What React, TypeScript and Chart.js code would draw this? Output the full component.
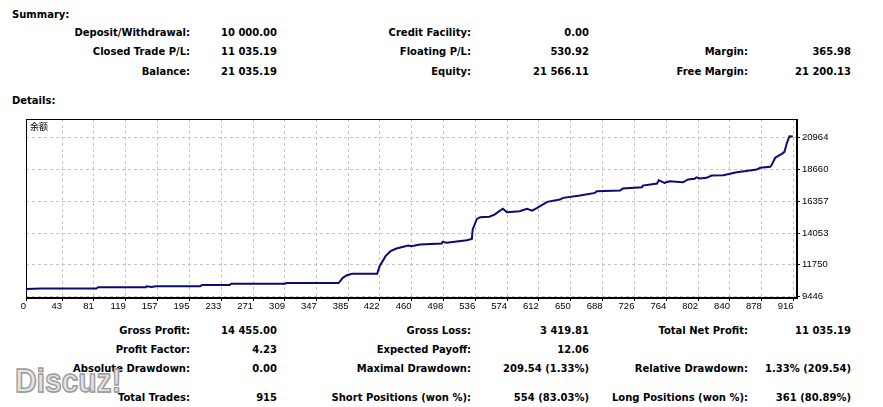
import React, { useEffect, useRef } from "react";
import { Chart, registerables } from "chart.js";

Chart.register(...registerables);

// ---- data ----
const tradeNo = [0, 18, 84, 86, 143, 144, 150, 155, 208, 210, 243, 245, 309, 311, 373, 378, 383, 389, 419, 422, 429, 435, 442, 456, 460, 470, 496, 497, 502, 526, 532, 533, 538, 542, 553, 559, 569, 574, 589, 598, 604, 610, 622, 637, 641, 661, 679, 681, 709, 712, 735, 736, 753, 755, 762, 768, 784, 790, 798, 800, 804, 812, 818, 832, 848, 855, 872, 876, 888, 890, 894, 897, 902, 905, 908, 911, 915];
const balance = [10000, 10040, 10040, 10130, 10130, 10200, 10150, 10200, 10200, 10300, 10300, 10380, 10380, 10430, 10430, 10810, 11000, 11100, 11100, 11650, 12380, 12740, 12930, 13150, 13100, 13220, 13290, 13420, 13350, 13530, 13630, 14310, 15080, 15200, 15230, 15390, 15810, 15560, 15630, 15810, 15680, 15880, 16310, 16480, 16600, 16770, 16960, 17080, 17130, 17280, 17370, 17490, 17640, 17880, 17690, 17800, 17730, 17930, 17980, 18090, 18000, 18050, 18220, 18240, 18460, 18510, 18650, 18780, 18850, 19010, 19500, 19620, 19790, 19930, 20590, 21060, 21035];
const xTicks = [0, 43, 81, 119, 157, 195, 233, 271, 309, 347, 385, 422, 460, 498, 536, 574, 612, 650, 688, 726, 764, 802, 840, 878, 916];
const yTicks = [9446, 11750, 14053, 16357, 18660, 20964];
const seriesName = "余额";

const summaryRows: string[][] = [
  ["Deposit/Withdrawal:", "10 000.00", "Credit Facility:", "0.00", "", ""],
  ["Closed Trade P/L:", "11 035.19", "Floating P/L:", "530.92", "Margin:", "365.98"],
  ["Balance:", "21 035.19", "Equity:", "21 566.11", "Free Margin:", "21 200.13"],
];
const detailRows: string[][] = [
  ["Gross Profit:", "14 455.00", "Gross Loss:", "3 419.81", "Total Net Profit:", "11 035.19"],
  ["Profit Factor:", "4.23", "Expected Payoff:", "12.06", "", ""],
  ["Absolute Drawdown:", "0.00", "Maximal Drawdown:", "209.54 (1.33%)", "Relative Drawdown:", "1.33% (209.54)"],
  ["Total Trades:", "915", "Short Positions (won %):", "554 (83.03%)", "Long Positions (won %):", "361 (80.89%)"],
];

// ---- layout ----
const W = 883;
const colRight = [190, 277, 471, 589, 748, 851];
const summaryY = [34, 53, 73];
const detailY = [332, 351, 370, 399];
const BOLD = "bold 10px 'DejaVu Sans', sans-serif";

const frame = {
  id: "frame",
  afterDatasetsDraw(chart: any) {
    const { ctx, chartArea: a } = chart;
    ctx.save();
    ctx.strokeStyle = "#000";
    ctx.lineWidth = 1;
    ctx.strokeRect(Math.round(a.left) + 0.5, Math.round(a.top) + 0.5, Math.round(a.right - a.left) - 1, Math.round(a.bottom - a.top) - 1);
    ctx.restore();
  },
};

function Txt({ text, right, y, left }: { text: string; right?: number; y: number; left?: number }) {
  const style: React.CSSProperties = {
    position: "absolute",
    top: y - 7,
    height: 14,
    lineHeight: "14px",
    font: BOLD,
    color: "#000",
    whiteSpace: "nowrap",
  };
  if (right !== undefined) style.right = W - right;
  if (left !== undefined) style.left = left;
  return <div style={style}>{text}</div>;
}

export default function App() {
  const ref = useRef<HTMLCanvasElement>(null);
  useEffect(() => {
    const chart = new Chart(ref.current!, {
      type: "line",
      data: {
        datasets: [
          {
            label: seriesName,
            data: tradeNo.map((t, i) => ({ x: t, y: balance[i] })),
            borderColor: "#0a0a78",
            borderWidth: 2,
            pointRadius: 0,
            tension: 0,
          },
        ],
      },
      plugins: [frame],
      options: {
        animation: false,
        responsive: false,
        devicePixelRatio: 1,
        layout: { padding: { left: 26, top: 9, right: 0, bottom: 0 } },
        plugins: { legend: { display: false }, tooltip: { enabled: false } },
        scales: {
          x: {
            type: "linear",
            min: 0,
            max: 920,
            afterBuildTicks: (axis: any) => {
              axis.ticks = xTicks.map((v) => ({ value: v }));
            },
            afterFit: (axis: any) => {
              axis.height = 17;
            },
            grid: {
              color: "#c4c4c4",
              tickColor: "#000",
              tickLength: 3,
              tickBorderDash: [],
            },
            border: { display: true, color: "#000", dash: [3, 3] },
            ticks: {
              autoSkip: false,
              maxRotation: 0,
              align: "end",
              padding: 0,
              color: "#000",
              font: { family: "'Liberation Sans', sans-serif", size: 9.5 },
              callback: (v: any) => String(v),
            },
          },
          y: {
            type: "linear",
            position: "right",
            min: 9350,
            max: 22310,
            afterBuildTicks: (axis: any) => {
              axis.ticks = yTicks.map((v) => ({ value: v }));
            },
            afterFit: (axis: any) => {
              axis.width = 86;
            },
            grid: {
              color: "#c4c4c4",
              tickColor: "#000",
              tickLength: 3,
              tickBorderDash: [],
            },
            border: { display: true, color: "#000", dash: [3, 3] },
            ticks: {
              padding: 2,
              color: "#000",
              font: { family: "'Liberation Sans', sans-serif", size: 9.5 },
              callback: (v: any) => String(v),
            },
          },
        },
      } as any,
    });
    return () => chart.destroy();
  }, []);

  return (
    <div style={{ position: "absolute", left: 0, top: 0, width: W, height: 407, background: "#fff", overflow: "hidden" }}>
      <Txt text="Summary:" left={12} y={15.5} />
      {summaryRows.map((row, r) =>
        row.map((t, c) => (t ? <Txt key={`s${r}-${c}`} text={t} right={colRight[c]} y={summaryY[r]} /> : null))
      )}
      <Txt text="Details:" left={12} y={101.5} />
      <canvas ref={ref} width={W} height={205} style={{ position: "absolute", left: 0, top: 110, width: W, height: 205 }} />
      <div style={{ position: "absolute", left: 30, top: 121, font: "9px 'Noto Sans CJK SC', sans-serif", color: "#000", lineHeight: "12px" }}>
        {seriesName}
      </div>
      {detailRows.map((row, r) =>
        row.map((t, c) => (t ? <Txt key={`d${r}-${c}`} text={t} right={colRight[c]} y={detailY[r]} /> : null))
      )}
      <div
        style={{
          position: "absolute",
          left: 15,
          top: 362,
          font: "bold 34px 'Liberation Sans', sans-serif",
          lineHeight: "36px",
          color: "#e2e2e2",
          WebkitTextStroke: "1.4px #9a9a9a",
          textShadow: "1px 1px 0 #d0d0d0",
          transform: "scaleX(0.88)",
          transformOrigin: "left top",
          whiteSpace: "nowrap",
        }}
      >
        Discuz!
      </div>
    </div>
  );
}
